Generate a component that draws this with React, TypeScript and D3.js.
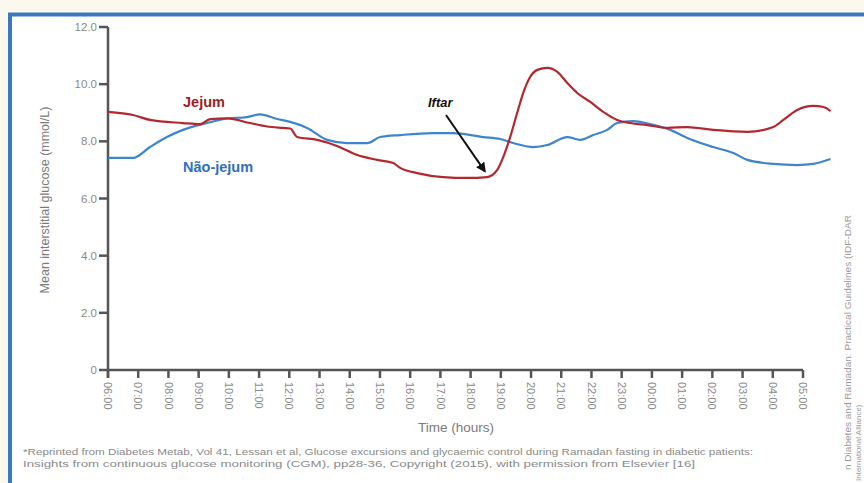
import React from "react";
import * as d3 from "d3";

// Hour offsets from 06:00 and mean interstitial glucose (mmol/L)
const jejumHours = [0, 0.83, 1.39, 2.48, 3.05, 3.38, 3.94, 4.7, 5.26, 5.79, 6.03, 6.26, 6.92, 7.58, 8.25, 8.91, 9.44, 9.67, 10.23, 11.09, 11.89, 12.55, 12.88, 13.08, 13.31, 13.54, 13.74, 13.97, 14.21, 14.54, 14.87, 15.2, 15.53, 15.96, 16.39, 16.85, 17.28, 17.85, 18.51, 19.17, 20.03, 21.16, 22.02, 22.35, 22.81, 23.34, 23.68, 23.91];
const jejumValues = [9.03, 8.92, 8.75, 8.64, 8.6, 8.78, 8.8, 8.64, 8.52, 8.47, 8.45, 8.15, 8.05, 7.84, 7.52, 7.35, 7.24, 7.07, 6.89, 6.75, 6.72, 6.75, 7.0, 7.45, 8.15, 8.99, 9.69, 10.25, 10.5, 10.57, 10.43, 10.04, 9.69, 9.38, 9.03, 8.75, 8.64, 8.57, 8.47, 8.5, 8.4, 8.33, 8.5, 8.75, 9.1, 9.24, 9.2, 9.06];

const naoJejumHours = [0, 0.83, 1.39, 1.95, 2.48, 3.28, 3.94, 4.6, 5.03, 5.6, 6.03, 6.59, 7.25, 7.91, 8.58, 9.01, 9.67, 10.76, 11.42, 12.42, 12.98, 13.41, 14.07, 14.54, 15.2, 15.63, 16.06, 16.52, 16.85, 17.38, 17.95, 18.61, 19.17, 20.03, 20.7, 21.16, 22.02, 22.81, 23.34, 23.91];
const naoJejumValues = [7.42, 7.42, 7.8, 8.15, 8.4, 8.64, 8.8, 8.85, 8.94, 8.78, 8.68, 8.47, 8.05, 7.94, 7.94, 8.15, 8.22, 8.29, 8.29, 8.15, 8.08, 7.94, 7.8, 7.87, 8.15, 8.05, 8.22, 8.4, 8.64, 8.71, 8.6, 8.4, 8.12, 7.8, 7.59, 7.35, 7.21, 7.17, 7.21, 7.38];

const timeLabels = ["06:00", "07:00", "08:00", "09:00", "10:00", "11:00", "12:00", "13:00", "14:00", "15:00", "16:00", "17:00", "18:00", "19:00", "20:00", "21:00", "22:00", "23:00", "00:00", "01:00", "02:00", "03:00", "04:00", "05:00"];
const glucoseTicks = [0, 2, 4, 6, 8, 10, 12];

const iftarHour = 12.6;
const iftarValue = 6.75;

const FONT = "'Liberation Sans', Arial, sans-serif";
const GREY = "#8a8a8a";
const AXIS = "#555555";
const RED = "#b3282e";
const BLUE = "#3d86cf";

export default function App() {
  const W = 864;
  const H = 483;
  const x = d3.scaleLinear().domain([0, 23]).range([108, 803]);
  const y = d3.scaleLinear().domain([0, 12]).range([370, 27]);

  const line = d3
    .line<[number, number]>()
    .x((d) => x(d[0]))
    .y((d) => y(d[1]))
    .curve(d3.curveMonotoneX);

  const jejum = jejumHours.map((h, i) => [h, jejumValues[i]] as [number, number]);
  const naoJejum = naoJejumHours.map((h, i) => [h, naoJejumValues[i]] as [number, number]);

  const arrowEndX = x(iftarHour) - 4;
  const arrowEndY = y(iftarValue) - 6;
  const arrowStartX = 446;
  const arrowStartY = 115;

  return (
    <svg
      width={W}
      height={H}
      style={{ position: "absolute", left: 0, top: 0, background: "#fdf8ee" }}
      fontFamily={FONT}
    >
      <defs>
        <marker id="arrowhead" viewBox="0 0 10 10" refX="8" refY="5" markerWidth="5" markerHeight="5" orient="auto">
          <path d="M0,0 L10,5 L0,10 z" fill="#111" />
        </marker>
      </defs>

      {/* framed panel */}
      <rect x={10} y={14.5} width={900} height={600} fill="#ffffff" stroke="#3b78c0" strokeWidth={4} />

      {/* y axis */}
      <line x1={x(0)} x2={x(0)} y1={y(12)} y2={y(0) + 8} stroke={AXIS} strokeWidth={2.5} />
      {glucoseTicks.map((t) => (
        <g key={t} transform={`translate(0,${y(t)})`}>
          <line x1={x(0) - 9} x2={x(0)} stroke={AXIS} strokeWidth={2.5} />
          <text x={x(0) - 11} dy="0.35em" textAnchor="end" fontSize={11.5} fill={GREY}>
            {t === 0 ? "0" : t.toFixed(1)}
          </text>
        </g>
      ))}

      {/* x axis */}
      <line x1={x(0)} x2={x(23)} y1={y(0)} y2={y(0)} stroke={AXIS} strokeWidth={2.5} />
      {timeLabels.map((lab, i) => (
        <g key={lab} transform={`translate(${x(i)},${y(0)})`}>
          <line y1={0} y2={8} stroke={AXIS} strokeWidth={2.5} />
          <text transform="translate(0,12) rotate(90)" dy="0.35em" textAnchor="start" fontSize={11} fill={GREY}>
            {lab}
          </text>
        </g>
      ))}

      {/* axis titles */}
      <text x={456} y={432} textAnchor="middle" fontSize={13.5} fill="#7a7a7a">
        Time (hours)
      </text>
      <text transform="translate(49,200) rotate(-90)" textAnchor="middle" fontSize={12.5} fill="#7a7a7a">
        Mean interstitial glucose (mmol/L)
      </text>

      {/* series */}
      <path d={line(naoJejum) ?? ""} fill="none" stroke={BLUE} strokeWidth={2.2} strokeLinejoin="round" />
      <path d={line(jejum) ?? ""} fill="none" stroke={RED} strokeWidth={2.2} strokeLinejoin="round" />

      {/* series labels */}
      <text x={183} y={107} fontSize={14.5} fontWeight="bold" fill="#a11d24">
        Jejum
      </text>
      <text x={183} y={172} fontSize={14.5} fontWeight="bold" fill="#2f6fbd">
        Não-jejum
      </text>

      {/* iftar annotation */}
      <text x={428} y={107} fontSize={13} fontWeight="bold" fontStyle="italic" fill="#111">
        Iftar
      </text>
      <line
        x1={arrowStartX}
        y1={arrowStartY}
        x2={arrowEndX}
        y2={arrowEndY}
        stroke="#111"
        strokeWidth={2}
        markerEnd="url(#arrowhead)"
      />

      {/* source note */}
      <text x={23} y={455} fontSize={9.5} fill="#8a8a8a" textLength={730} lengthAdjust="spacingAndGlyphs">
        *Reprinted from Diabetes Metab, Vol 41, Lessan et al, Glucose excursions and glycaemic control during Ramadan fasting in diabetic patients:
      </text>
      <text x={23} y={467} fontSize={9.5} fill="#8a8a8a" textLength={672} lengthAdjust="spacingAndGlyphs">
        Insights from continuous glucose monitoring (CGM), pp28-36, Copyright (2015), with permission from Elsevier [16]
      </text>

      {/* side credit */}
      <text transform="translate(851,470) rotate(-90)" fontSize={8.5} fill="#9a9a9a" textLength={255} lengthAdjust="spacingAndGlyphs">
        n Diabetes and Ramadan: Practical Guidelines (IDF-DAR
      </text>
      <text transform="translate(861,481) rotate(-90)" fontSize={8} fill="#9a9a9a">
        International Alliance)
      </text>
    </svg>
  );
}
